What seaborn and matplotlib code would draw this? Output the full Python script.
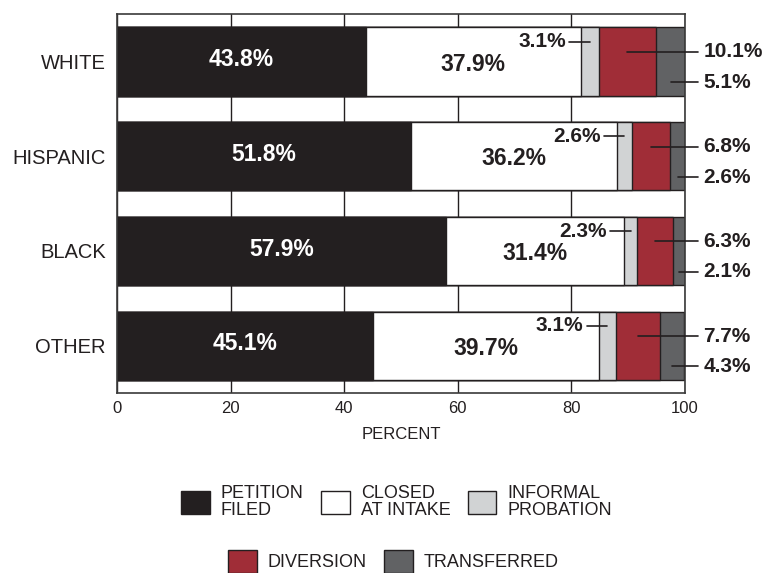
import matplotlib.pyplot as plt
from matplotlib.patches import Patch
import seaborn as sns
import pandas as pd

# Data
groups = ['WHITE', 'HISPANIC', 'BLACK', 'OTHER']
petition = [43.8, 51.8, 57.9, 45.1]
closed = [37.9, 36.2, 31.4, 39.7]
informal = [3.1, 2.6, 2.3, 3.1]
diversion = [10.1, 6.8, 6.3, 7.7]
transferred = [5.1, 2.6, 2.1, 4.3]
segment_labels = ['PETITION\nFILED', 'CLOSED\nAT INTAKE', 'INFORMAL\nPROBATION',
                  'DIVERSION', 'TRANSFERRED']
x_ticks = [0, 20, 40, 60, 80, 100]

cols = ['petition', 'closed', 'informal', 'diversion', 'transferred']
colors = ['#231f20', '#ffffff', '#d1d3d4', '#a02d37', '#616264']
edge = '#231f20'

df = pd.DataFrame({'group': groups, 'petition': petition, 'closed': closed,
                   'informal': informal, 'diversion': diversion,
                   'transferred': transferred})
cum = df[cols].cumsum(axis=1)
cum['group'] = df['group']

sns.set_style('white')
plt.rcParams['font.family'] = ['Liberation Sans', 'DejaVu Sans']

fig = plt.figure(figsize=(7.64, 5.73), dpi=100)
ax = fig.add_axes([0.1531, 0.3141, 0.7435, 0.6614])

# stacked bars: draw cumulative totals from longest to shortest
for col, color in reversed(list(zip(cols, colors))):
    sns.barplot(data=cum, x=col, y='group', order=groups, orient='h',
                color=color, saturation=1, edgecolor=edge, linewidth=1,
                width=0.72, ax=ax)

ax.set_xlim(0, 100)
ax.set_ylim(3.5, -0.5)
ax.set_xticks(x_ticks)
ax.set_axisbelow(True)
ax.xaxis.grid(True, color=edge, linewidth=1)
ax.yaxis.grid(False)
ax.tick_params(axis='both', length=0)
ax.tick_params(axis='y', labelsize=14.5, pad=8, colors='#231f20')
ax.tick_params(axis='x', labelsize=12, pad=6, colors='#231f20')
for s in ax.spines.values():
    s.set_visible(True)
    s.set_color('#3a3a3a')
    s.set_linewidth(1.2)
ax.set_ylabel('')
ax.set_xlabel('PERCENT', fontsize=12, labelpad=8, color='#231f20')

# value labels
for i in range(len(groups)):
    p, c, inf, d, t = petition[i], closed[i], informal[i], diversion[i], transferred[i]
    ax.text(p / 2, i - 0.02, f'{p}%', color='white', ha='center', va='center',
            fontsize=16.5, fontweight='bold')
    ax.text(p + c / 2, i + 0.03, f'{c}%', color='#231f20', ha='center',
            va='center', fontsize=16.5, fontweight='bold')

    xc = p + c + inf / 2
    yy = i - 0.21
    ax.plot([xc - 3.6, xc], [yy, yy], color='#231f20', lw=1.2, zorder=5)
    ax.text(xc - 4.2, yy, f'{inf}%', ha='right', va='center', fontsize=15,
            fontweight='bold', color='#231f20')

    xc = p + c + inf + d / 2
    yy = i - 0.1
    ax.plot([xc, 102.3], [yy, yy], color='#231f20', lw=1.2, zorder=5,
            clip_on=False)
    ax.text(103.2, yy, f'{d}%', ha='left', va='center', fontsize=15,
            fontweight='bold', color='#231f20')

    xc = p + c + inf + d + t / 2
    yy = i + 0.22
    ax.plot([xc, 102.3], [yy, yy], color='#231f20', lw=1.2, zorder=5,
            clip_on=False)
    ax.text(103.2, yy, f'{t}%', ha='left', va='center', fontsize=15,
            fontweight='bold', color='#231f20')

# legend in two rows
handles = [Patch(facecolor=c, edgecolor=edge, linewidth=1, label=l)
           for c, l in zip(colors, segment_labels)]
leg_kw = dict(loc='center', frameon=False, fontsize=13, handlelength=1.6,
              handleheight=1.6, handletextpad=0.6, columnspacing=0.95,
              labelcolor='#231f20')
leg1 = fig.legend(handles=handles[:3], ncol=3, bbox_to_anchor=(0.519, 0.124), **leg_kw)
for txt in leg1.get_texts():
    txt.set_linespacing(0.95)
leg2 = fig.legend(handles=handles[3:], ncol=2, bbox_to_anchor=(0.515, 0.02), **leg_kw)

fig.savefig('out.png', dpi=100)
